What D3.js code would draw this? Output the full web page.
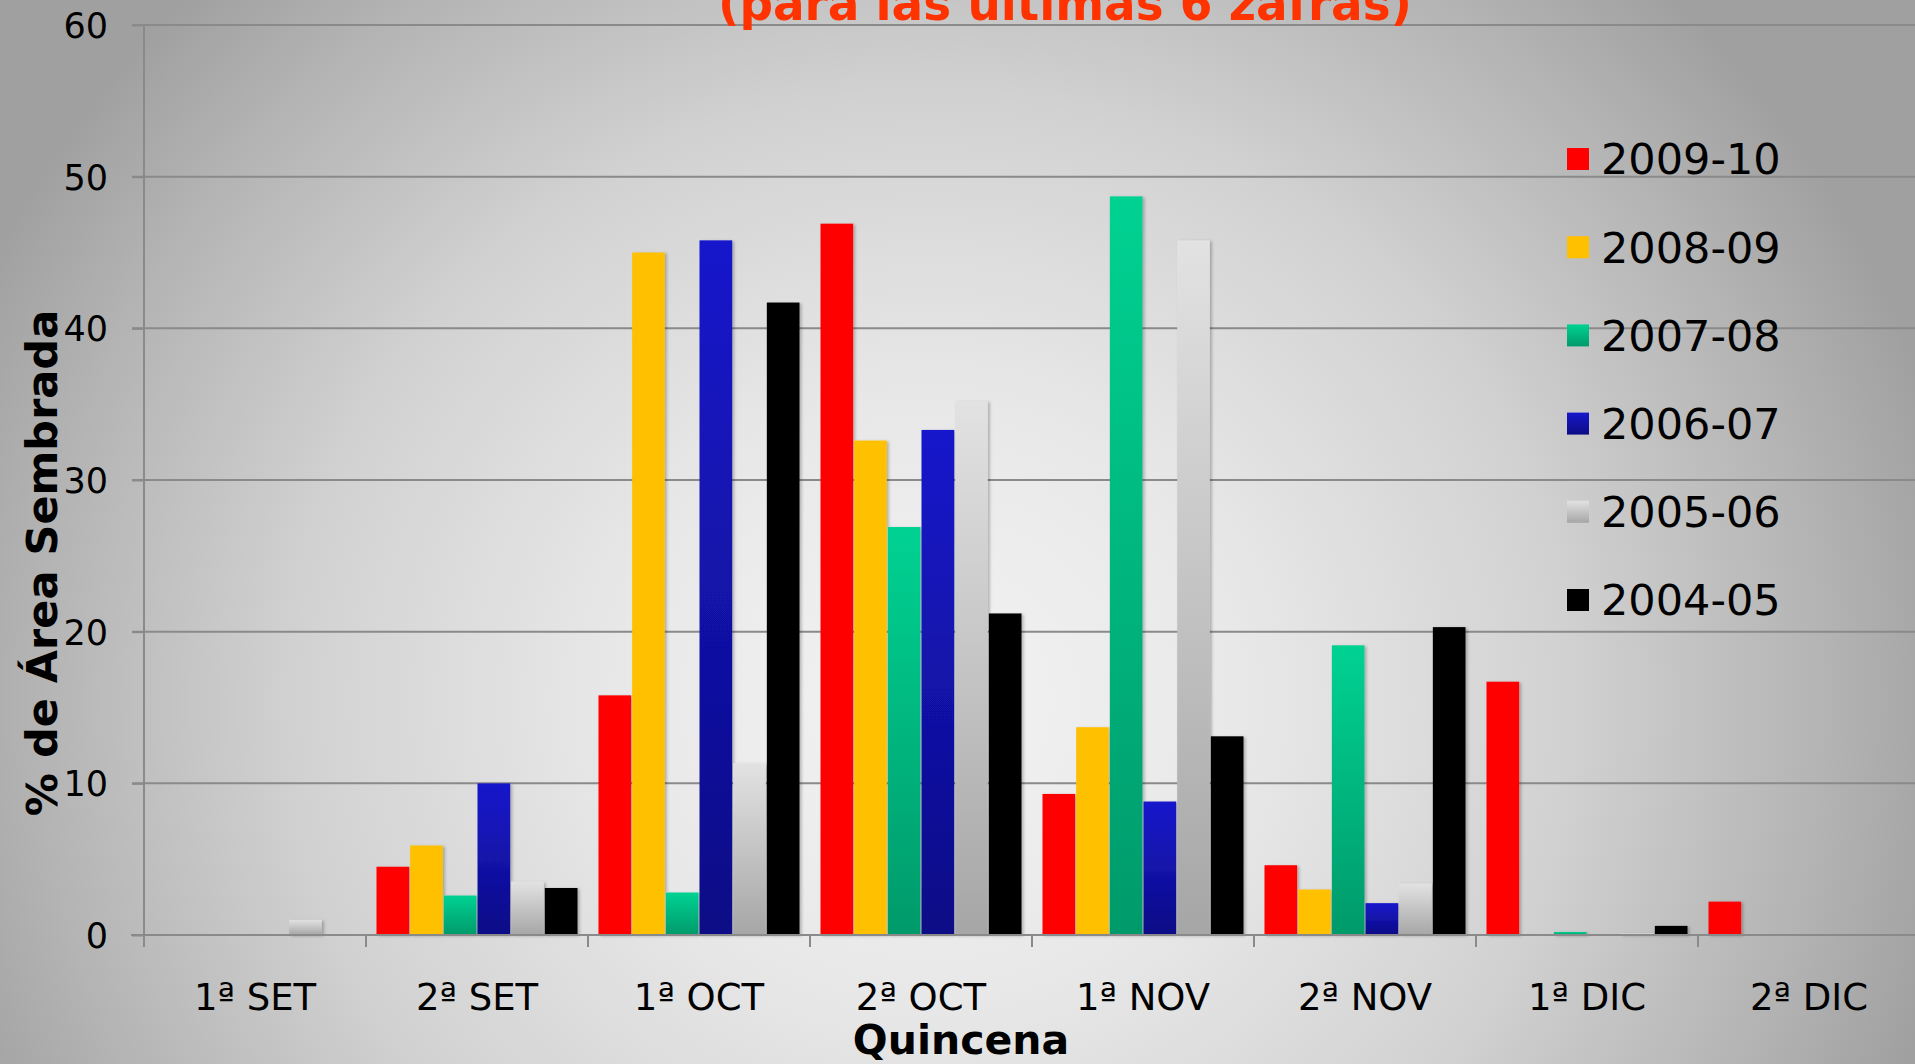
<!DOCTYPE html>
<html>
<head>
<meta charset="utf-8">
<script src="https://cdn.jsdelivr.net/npm/d3@7"></script>
<style>
html,body{margin:0;padding:0;overflow:hidden;background:#c8c8c8;}
svg{display:block;}
</style>
</head>
<body>
<svg id="chart" width="1915" height="1064"></svg>
<script>
// ---- data ----
const categories = ["1ª SET","2ª SET","1ª OCT","2ª OCT","1ª NOV","2ª NOV","1ª DIC","2ª DIC"];
const seriesNames = ["2009-10","2008-09","2007-08","2006-07","2005-06","2004-05"];
const s2009_10 = [0, 4.5, 15.8, 46.9, 9.3, 4.6, 16.7, 2.2];
const s2008_09 = [0, 5.9, 45.0, 32.6, 13.7, 3.0, 0, 0];
const s2007_08 = [0, 2.6, 2.8, 26.9, 48.7, 19.1, 0.2, 0];
const s2006_07 = [0, 10.0, 45.8, 33.3, 8.8, 2.1, 0, 0];
const s2005_06 = [1.0, 3.5, 11.3, 35.2, 45.8, 3.4, 0.1, 0];
const s2004_05 = [0, 3.1, 41.7, 21.2, 13.1, 20.3, 0.6, 0];
const seriesValues = [s2009_10, s2008_09, s2007_08, s2006_07, s2005_06, s2004_05];
const yTicks = [0, 10, 20, 30, 40, 50, 60];
const titleText = "(para las últimas 6 zafras)";
const xTitle = "Quincena";
const yTitle = "% de Área Sembrada";

// ---- styles ----
const fills = [
  {id:"g0", top:"#ff0000", bot:"#ff0000"},
  {id:"g1", top:"#ffc000", bot:"#ffc000"},
  {id:"g2", top:"#00d292", bot:"#009a6a"},
  {id:"g3", top:"#1818cc", bot:"#0c0c86"},
  {id:"g4", top:"#e2e2e2", bot:"#a6a6a6"},
  {id:"g5", top:"#000000", bot:"#000000"}
];

const svg = d3.select("#chart");
const W = 1915, H = 1064;
const defs = svg.append("defs");

const bg = defs.append("radialGradient").attr("id","bg")
  .attr("gradientUnits","userSpaceOnUse")
  .attr("cx",930).attr("cy",700).attr("r",1050)
  .attr("gradientTransform","translate(930,700) scale(1,0.95) translate(-930,-700)");
bg.append("stop").attr("offset","0").attr("stop-color","#f3f3f3");
bg.append("stop").attr("offset","0.3").attr("stop-color","#e8e8e8");
bg.append("stop").attr("offset","0.6").attr("stop-color","#d2d2d2");
bg.append("stop").attr("offset","0.85").attr("stop-color","#b4b4b4");
bg.append("stop").attr("offset","1").attr("stop-color","#a0a0a0");

fills.forEach(f => {
  const g = defs.append("linearGradient").attr("id", f.id)
    .attr("x1",0).attr("y1",0).attr("x2",0).attr("y2",1);
  g.append("stop").attr("offset","0").attr("stop-color", f.top);
  g.append("stop").attr("offset","1").attr("stop-color", f.bot);
});

const shadow = defs.append("filter").attr("id","shadow")
  .attr("x","-20%").attr("y","-5%").attr("width","150%").attr("height","115%");
shadow.append("feDropShadow").attr("dx",2).attr("dy",1).attr("stdDeviation",1.5)
  .attr("flood-color","#000").attr("flood-opacity",0.25);

svg.append("rect").attr("x",0).attr("y",0).attr("width",W).attr("height",H).attr("fill","url(#bg)");

// ---- scales ----
const x0 = d3.scaleBand().domain(categories).range([144, 1920]).paddingInner(0).paddingOuter(0);
const x1 = d3.scaleBand().domain(seriesNames).range([10.5, x0.bandwidth() - 10.5]).paddingInner(0.03);
const y = d3.scaleLinear().domain([0, 60]).range([935, 25]);

// gridlines
svg.append("g").selectAll("line").data(yTicks.filter(d => d > 0)).join("line")
  .attr("x1", 132).attr("x2", W)
  .attr("y1", d => y(d)).attr("y2", d => y(d))
  .attr("stroke","#8a8a8a").attr("stroke-width",2);

// title (cut off at top, as in the reference)
svg.append("text")
  .attr("x", 1065).attr("y", 20)
  .attr("text-anchor","middle")
  .attr("font-family","'Comic Sans MS','DejaVu Sans Condensed','DejaVu Sans',sans-serif")
  .attr("font-weight","bold")
  .attr("font-size", 48)
  .attr("fill","#ff3300")
  .attr("textLength", 694).attr("lengthAdjust","spacingAndGlyphs")
  .text(titleText);

// bars
const barsG = svg.append("g").attr("filter","url(#shadow)");
seriesNames.forEach((s, si) => {
  barsG.append("g").selectAll("rect")
    .data(categories.map((c, ci) => ({c, v: seriesValues[si][ci]})).filter(d => d.v > 0))
    .join("rect")
    .attr("x", d => x0(d.c) + x1(s))
    .attr("width", x1.bandwidth())
    .attr("y", d => y(d.v))
    .attr("height", d => y(0) - y(d.v))
    .attr("fill", `url(#${fills[si].id})`);
});

// y axis
const yAxis = d3.axisLeft(y).tickValues(yTicks).tickSize(12).tickPadding(24).tickFormat(d3.format("d"));
const yg = svg.append("g").attr("transform","translate(144,0)").call(yAxis);
yg.select(".domain").attr("stroke","#8a8a8a").attr("stroke-width",2).attr("d","M0,25V947");
yg.selectAll(".tick line").attr("stroke","#8a8a8a").attr("stroke-width",2);
yg.selectAll(".tick text").attr("font-family","'DejaVu Sans',Verdana,sans-serif")
  .attr("font-size",35).attr("fill","#000").attr("dy","0.36em").attr("x",-36);

// x axis
const xAxis = d3.axisBottom(x0).tickSize(0).tickPadding(0);
const xg = svg.append("g").attr("transform","translate(0,935)").call(xAxis);
xg.select(".domain").attr("stroke","#8a8a8a").attr("stroke-width",2).attr("d","M131,0H1920");
xg.selectAll(".tick text").attr("font-family","'DejaVu Sans',Verdana,sans-serif")
  .attr("font-size",37).attr("fill","#000").attr("y",75).attr("dy",0);
// category separator ticks
xg.append("g").selectAll("line").data(categories.slice(1)).join("line")
  .attr("x1", d => x0(d)).attr("x2", d => x0(d))
  .attr("y1", 0).attr("y2", 12)
  .attr("stroke","#8a8a8a").attr("stroke-width",2);

// axis titles
svg.append("text")
  .attr("x", 961).attr("y", 1054)
  .attr("text-anchor","middle")
  .attr("font-family","'DejaVu Sans',Verdana,sans-serif")
  .attr("font-weight","bold").attr("font-size",41).attr("fill","#000")
  .text(xTitle);

svg.append("text")
  .attr("transform","translate(57,563) rotate(-90)")
  .attr("text-anchor","middle")
  .attr("font-family","'DejaVu Sans',Verdana,sans-serif")
  .attr("font-weight","bold").attr("font-size",43).attr("fill","#000")
  .text(yTitle);

// legend
const leg = svg.append("g");
seriesNames.forEach((s, i) => {
  const cy = 159 + i * 88.2;
  leg.append("rect").attr("x",1567).attr("y",cy - 11).attr("width",22).attr("height",22)
    .attr("fill", `url(#${fills[i].id})`);
  leg.append("text").attr("x",1601).attr("y",cy).attr("dy","0.36em")
    .attr("font-family","'DejaVu Sans',Verdana,sans-serif")
    .attr("font-size",43).attr("fill","#000").text(s);
});
</script>
</body>
</html>
